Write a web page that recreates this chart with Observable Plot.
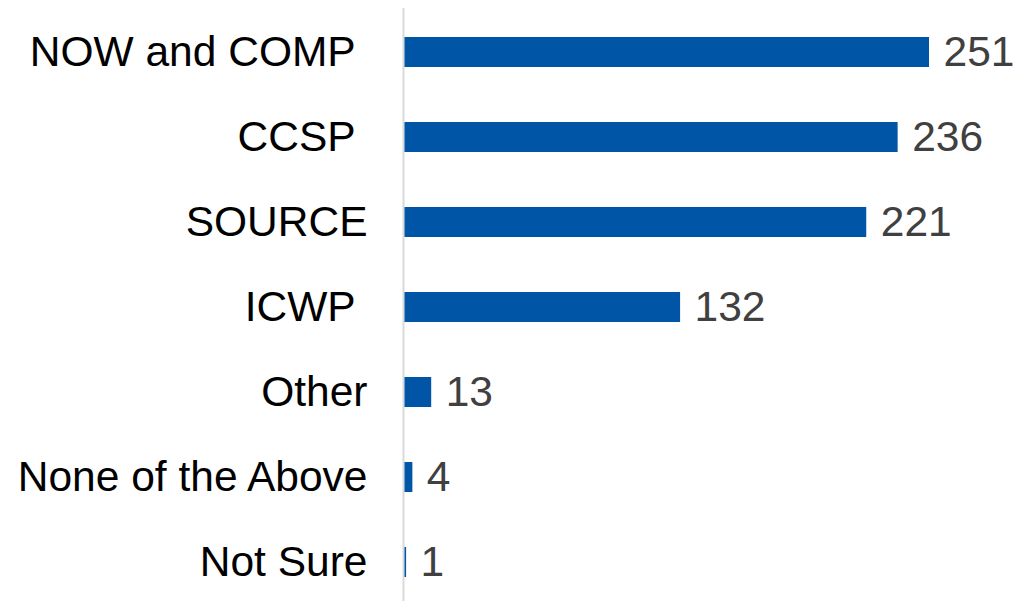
<!DOCTYPE html>
<html>
<head>
<meta charset="utf-8">
<script src="https://cdn.jsdelivr.net/npm/d3@7"></script>
<script src="https://cdn.jsdelivr.net/npm/@observablehq/plot@0.6"></script>
<style>
  html, body { margin: 0; padding: 0; background: #fff; }
  #chart svg { display: block; }
</style>
</head>
<body>
<div id="chart"></div>
<script>
const categories = ["NOW and COMP ", "CCSP ", "SOURCE", "ICWP ", "Other", "None of the Above", "Not Sure"];
const counts = [251, 236, 221, 132, 13, 4, 1];

const data = categories.map((c, i) => ({category: c, count: counts[i]}));

const chart = Plot.plot({
  width: 1015,
  height: 601,
  marginLeft: 404,
  marginRight: 86,
  marginTop: 8,
  marginBottom: 0,
  style: {fontFamily: "'Liberation Sans', Arial, sans-serif", background: "#fff"},
  x: {domain: [0, d3.max(counts)], axis: null},
  y: {domain: categories, paddingInner: 0.6486, paddingOuter: 0.297, align: 0.551, label: null},
  marks: [
    Plot.ruleX([0], {stroke: "#d9d9d9", strokeWidth: 2, dx: -1}),
    Plot.axisY({
      tickSize: 0,
      tickPadding: 37,
      fontSize: 42.5,
      fill: "#000",
      tickFormat: d => d.replace(/ $/, "\u00a0")
    }),
    Plot.barX(data, {x: "count", y: "category", fill: "#0055a6", insetLeft: 0.5}),
    Plot.text(data, {x: "count", y: "category", text: d => String(d.count), textAnchor: "start", dx: 14, fontSize: 42.5, fill: "#404040"})
  ]
});
document.getElementById("chart").append(chart);
</script>
</body>
</html>
